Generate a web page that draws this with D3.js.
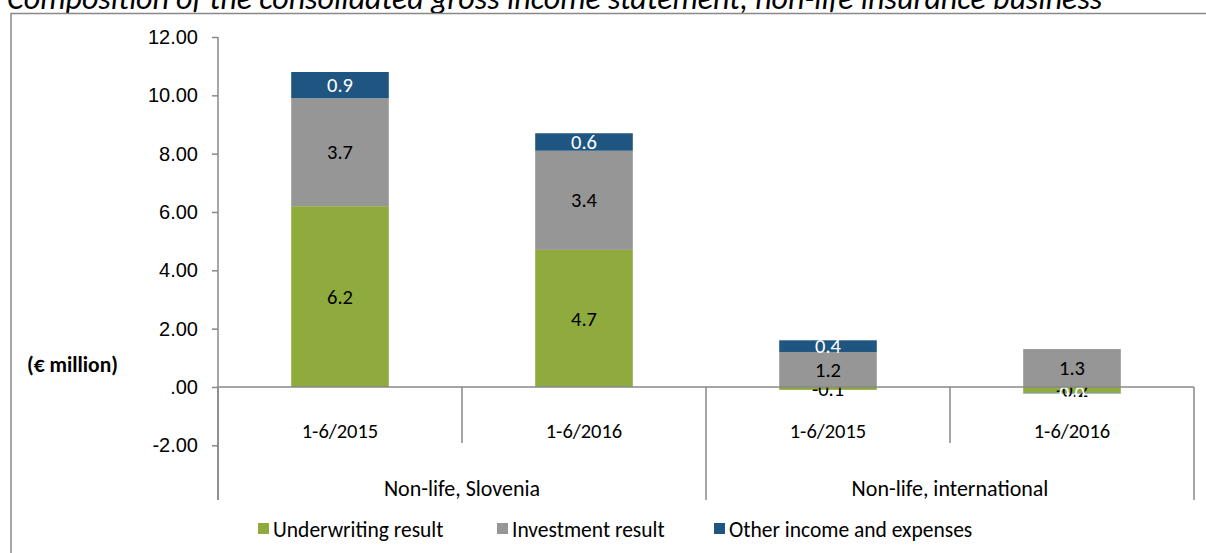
<!DOCTYPE html>
<html>
<head>
<meta charset="utf-8">
<script src="https://cdn.jsdelivr.net/npm/d3@7"></script>
<style>
  body { margin: 0; background: #fff; }
  svg { display: block; font-family: Carlito, Calibri, Lato, sans-serif; }
</style>
</head>
<body>
<svg width="1206" height="553"></svg>
<script>
// Chart data
const periods = ["1-6/2015", "1-6/2016", "1-6/2015", "1-6/2016"];
const groups = ["Non-life, Slovenia", "Non-life, international"];
const underwriting = [6.2, 4.7, -0.1, -0.2];
const investment = [3.7, 3.4, 1.2, 1.3];
const other = [0.9, 0.6, 0.4, -0.02];
const seriesNames = ["Underwriting result", "Investment result", "Other income and expenses"];
const yTicks = [-2, 0, 2, 4, 6, 8, 10, 12];

const colors = ["#8fab3d", "#969696", "#1f5581"];
const labelColors = ["#000", "#000", "#fff"];
const axisColor = "#898989";

var svg = d3.select("svg");

// build rows for the stack
var rows = periods.map(function(p, i) {
    return { i: i, s0: underwriting[i], s1: investment[i], s2: other[i] };
});
var keys = ["s0", "s1", "s2"];
var stacked = d3.stack().keys(keys).offset(d3.stackOffsetDiverging)(rows);

var x = d3.scaleBand()
    .domain(d3.range(periods.length))
    .range([218, 1194])
    .paddingInner(0.6)
    .paddingOuter(0.3);

var y = d3.scaleLinear().domain([-2, 12]).range([445.3, 37]);
var axisBottom = 500;

// title (cut off at top, like the source)
svg.append("text")
    .attr("x", 7)
    .attr("y", 9)
    .attr("font-size", 32)
    .attr("font-style", "italic")
    .text("Composition of the consolidated gross income statement, non-life insurance business");

// frame
svg.append("path")
    .attr("d", "M11,553V13.5H1206")
    .attr("fill", "none")
    .attr("stroke", axisColor)
    .attr("stroke-width", 1.5);

// y axis
var yAxis = svg.append("g")
    .attr("transform", "translate(218,0)")
    .call(d3.axisLeft(y)
        .tickValues(yTicks)
        .tickSize(6)
        .tickPadding(14)
        .tickFormat(function(d) { return d === 0 ? ".00" : d.toFixed(2); }));
yAxis.select(".domain").remove();
yAxis.selectAll(".tick line").attr("stroke", axisColor).attr("stroke-width", 1.5);
yAxis.selectAll(".tick text")
    .attr("font-size", 20)
    .attr("fill", "#000")
    .attr("font-family", null);

svg.append("line")
    .attr("x1", 218).attr("x2", 218)
    .attr("y1", y(12)).attr("y2", axisBottom)
    .attr("stroke", axisColor).attr("stroke-width", 1.5);

// unit label
svg.append("text")
    .attr("x", 27)
    .attr("y", 364)
    .attr("dy", "0.35em")
    .attr("font-size", 21.5)
    .attr("font-weight", "bold")
    .text("(€ million)");

// bars
var layer = svg.selectAll(".layer")
    .data(stacked)
    .enter().append("g")
    .attr("class", "layer")
    .attr("fill", function(d, k) { return colors[k]; });

layer.selectAll("rect")
    .data(function(d) { return d; })
    .enter().append("rect")
    .attr("x", function(d) { return x(d.data.i); })
    .attr("width", x.bandwidth())
    .attr("y", function(d) { return y(Math.max(d[0], d[1])); })
    .attr("height", function(d) { return Math.abs(y(d[0]) - y(d[1])); });

// category axis
var cat = svg.append("g").attr("stroke", axisColor).attr("stroke-width", 1.5);
cat.append("line")
    .attr("x1", 218).attr("x2", 1194)
    .attr("y1", y(0)).attr("y2", y(0));

var step = x.step();
d3.range(periods.length + 1).forEach(function(k) {
    var xx = 218 + k * step;
    cat.append("line")
        .attr("x1", xx).attr("x2", xx)
        .attr("y1", y(0))
        .attr("y2", k % 2 === 0 ? axisBottom : 443);
});

svg.selectAll(".period")
    .data(periods)
    .enter().append("text")
    .attr("class", "period")
    .attr("x", function(d, i) { return x(i) + x.bandwidth() / 2; })
    .attr("y", 431)
    .attr("dy", "0.35em")
    .attr("text-anchor", "middle")
    .attr("font-size", 20.5)
    .text(function(d) { return d; });

svg.selectAll(".group")
    .data(groups)
    .enter().append("text")
    .attr("class", "group")
    .attr("x", function(d, g) { return 218 + step * (2 * g + 1); })
    .attr("y", 488)
    .attr("dy", "0.35em")
    .attr("text-anchor", "middle")
    .attr("font-size", 22)
    .text(function(d) { return d; });

// data labels
function fmt(v) {
    var s = v.toFixed(1);
    return s === "-0.0" ? "0.0" : s;
}
layer.each(function(series, k) {
    d3.select(this).selectAll("text")
        .data(series)
        .enter().append("text")
        .attr("x", function(d) { return x(d.data.i) + x.bandwidth() / 2; })
        .attr("y", function(d) { return y((d[0] + d[1]) / 2); })
        .attr("dy", "0.35em")
        .attr("text-anchor", "middle")
        .attr("font-size", 20.5)
        .attr("fill", labelColors[k])
        .text(function(d) { return fmt(d.data[keys[k]]); });
});

// legend
var legendX = [258, 497, 714];
var legend = svg.selectAll(".legend")
    .data(seriesNames)
    .enter().append("g")
    .attr("class", "legend")
    .attr("transform", function(d, k) { return "translate(" + legendX[k] + ",529)"; });
legend.append("rect")
    .attr("x", 0).attr("y", -6)
    .attr("width", 11).attr("height", 11)
    .attr("fill", function(d, k) { return colors[k]; });
legend.append("text")
    .attr("x", 15)
    .attr("dy", "0.35em")
    .attr("font-size", 21.5)
    .text(function(d) { return d; });
</script>
</body>
</html>
